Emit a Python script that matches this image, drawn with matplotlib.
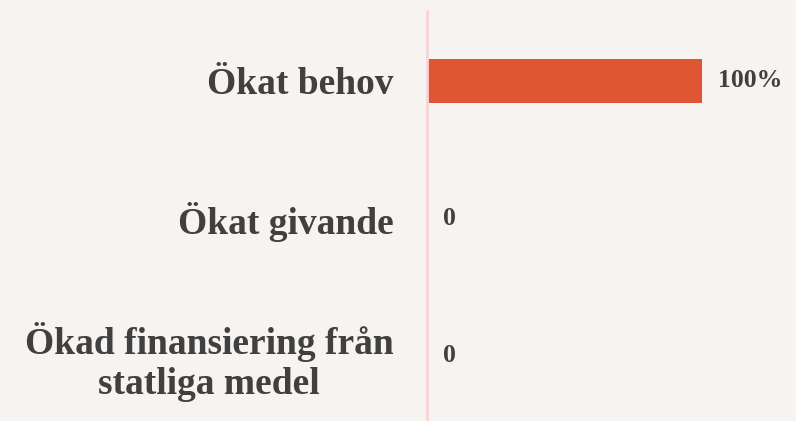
import matplotlib
matplotlib.use("Agg")
import matplotlib.pyplot as plt

categories = ["Ökat behov", "Ökat givande", "Ökad finansiering från\nstatliga medel"]
values = [100, 0, 0]
value_labels = ["100%", "0", "0"]

bg = "#f7f3f0"
bar_color = "#e05532"
text_color = "#404040"
axis_color = "#f6d6d6"

fig = plt.figure(figsize=(7.96, 4.21), dpi=100, facecolor=bg)
ax = fig.add_axes([427/796, 0, 1 - 427/796, 1 - 11/421])
ax.set_facecolor(bg)

y = list(range(len(categories)))
ax.barh(y, values, height=0.315, color=bar_color, zorder=2)
ax.set_ylim(2.48, -0.51)
ax.set_xlim(0, (796 - 427) / 2.75)

for s in ["top", "right", "bottom"]:
    ax.spines[s].set_visible(False)
ax.spines["left"].set_color(axis_color)
ax.spines["left"].set_linewidth(2)
ax.set_xticks([])
ax.set_yticks(y)
ax.set_yticklabels(categories, fontfamily="Liberation Serif", fontweight="bold",
                   fontsize=27, color=text_color, multialignment="center",
                   linespacing=1.2)
ax.tick_params(axis="y", length=0, pad=24)

for yi, v, lab in zip(y, values, value_labels):
    ax.annotate(lab, xy=(v, yi), xytext=(16, 0), textcoords="offset pixels",
                ha="left", va="center", fontfamily="Liberation Serif",
                fontweight="bold", fontsize=18.5, color=text_color)

fig.savefig("out.png", dpi=100, facecolor=bg)
